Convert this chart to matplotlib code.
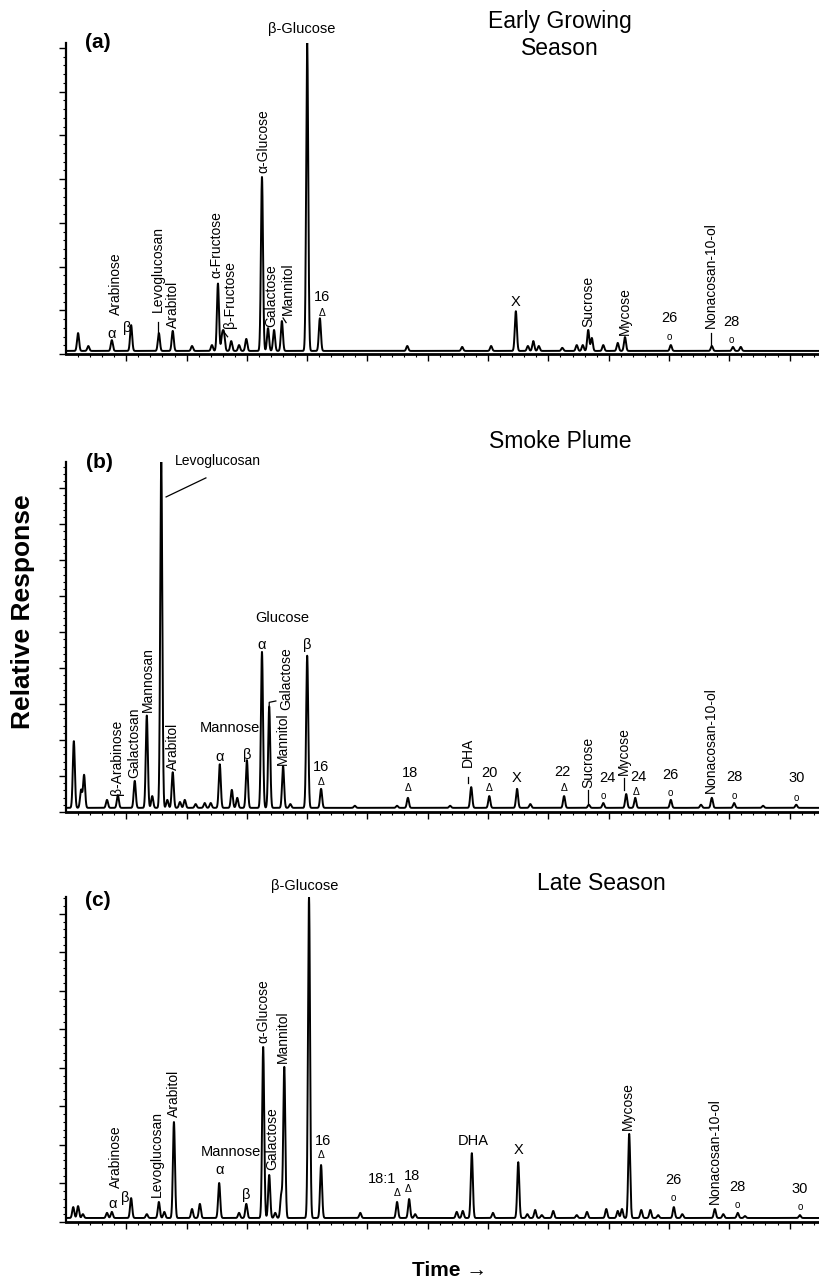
#!/usr/bin/env python3
# -*- coding: utf-8 -*-

"""
plot.py
-------
Trois chromatogrammes GC-MS empilés (a, b, c) :
    - Early Growing Season
    - Smoke Plume
    - Late Season
Temps en unités de graduation majeure, réponse en % du plus grand pic.
"""

import numpy as np
import matplotlib.pyplot as plt

plt.rcParams['font.family'] = ['Liberation Sans', 'DejaVu Sans']

# ---------------------------------------------------------------------
# (a) Early Growing Season : temps de rétention / réponse relative (%)
time_a = [0.20, 0.37, 0.76, 1.08, 1.54, 1.77, 2.09, 2.42, 2.52, 2.59, 2.62,
          2.74, 2.87, 2.99, 3.25, 3.35, 3.45, 3.58, 4.00, 4.21, 5.66, 6.57,
          7.05, 7.46, 7.66, 7.75, 7.84, 8.23, 8.47, 8.57, 8.66, 8.72, 8.91,
          9.15, 9.27, 10.03, 10.71, 11.06, 11.19]
resp_a = [5.8, 1.6, 3.5, 8.4, 5.8, 6.5, 1.6, 1.9, 21.9, 4.8, 5.2,
          3.2, 1.9, 3.9, 56.5, 7.4, 6.8, 9.7, 100.0, 10.6, 1.6, 1.3,
          1.6, 12.9, 1.6, 3.2, 1.6, 1.0, 1.9, 1.9, 6.8, 4.2, 1.9,
          2.6, 4.5, 1.9, 1.6, 1.3, 1.3]

# (b) Smoke Plume
time_b = [0.13, 0.25, 0.30, 0.68, 0.86, 1.14, 1.34, 1.43, 1.58, 1.68, 1.77,
          1.89, 1.97, 2.15, 2.30, 2.40, 2.55, 2.75, 2.84, 3.00, 3.25, 3.37,
          3.60, 3.72, 4.00, 4.23, 4.79, 5.49, 5.67, 6.37, 6.72, 7.02, 7.48,
          7.70, 8.26, 8.67, 8.91, 9.29, 9.44, 10.03, 10.53, 10.71, 11.08,
          11.56, 12.11]
resp_b = [19.3, 5.2, 9.5, 2.3, 3.7, 7.8, 26.7, 3.4, 100.0, 2.3, 10.3,
          1.7, 2.3, 1.1, 1.4, 1.4, 12.6, 5.2, 2.9, 13.8, 45.1, 29.3,
          12.1, 1.1, 44.0, 5.5, 0.6, 0.6, 2.9, 0.6, 6.0, 3.4, 5.5,
          1.1, 3.4, 0.9, 1.4, 4.0, 2.9, 2.3, 0.9, 2.9, 1.4,
          0.6, 0.9]

# (c) Late Season
time_c = [0.12, 0.20, 0.28, 0.68, 0.76, 1.08, 1.34, 1.54, 1.63, 1.79, 2.09,
          2.22, 2.54, 2.87, 2.99, 3.27, 3.37, 3.47, 3.57, 3.62, 4.03, 4.23,
          4.88, 5.49, 5.69, 5.79, 6.48, 6.58, 6.73, 7.08, 7.50, 7.65, 7.78,
          7.89, 8.08, 8.47, 8.64, 8.96, 9.15, 9.22, 9.34, 9.54, 9.69, 9.82,
          10.08, 10.22, 10.76, 10.90, 11.14, 11.26, 12.17]
resp_c = [3.4, 3.7, 1.2, 1.6, 1.9, 6.2, 1.2, 5.0, 1.9, 29.9, 2.8,
          4.4, 10.9, 1.6, 4.4, 53.3, 13.4, 1.6, 7.2, 47.0, 100.0, 16.5,
          1.6, 5.0, 5.9, 1.2, 1.9, 2.2, 20.2, 1.6, 17.4, 1.2, 2.5,
          0.9, 2.2, 0.9, 1.9, 2.8, 2.2, 2.8, 26.2, 2.5, 2.5, 0.9,
          3.4, 1.2, 2.8, 1.2, 1.6, 0.6, 0.9]

# étiquettes : (texte, x, y, vertical ?)
labels_a = [
    ("Arabinose", 0.83, 11.7, True), ("α", 0.76, 5.5, False), ("β", 1.01, 7.5, False),
    ("Levoglucosan", 1.53, 12.7, True), ("Arabitol", 1.77, 7.5, True),
    ("α-Fructose", 2.50, 23.7, True), ("β-Fructose", 2.72, 7.5, True),
    ("α-Glucose", 3.27, 57.8, True), ("Galactose", 3.40, 7.8, True),
    ("Mannitol", 3.68, 11.7, True), ("β-Glucose", 3.91, 104.5, False),
    ("16", 4.25, 17.5, False), ("X", 7.45, 15.9, False),
    ("Sucrose", 8.66, 7.8, True), ("Mycose", 9.27, 5.2, True),
    ("26", 10.00, 10.7, False), ("Nonacosan-10-ol", 10.70, 7.5, True),
    ("28", 11.04, 9.4, False),
]
marks_a = [("Δ", 4.25, 12.3), ("o", 10.00, 4.5), ("o", 11.04, 3.6)]
leaders_a = [([1.53, 1.53], [9.4, 6.2]), ([2.60, 2.68], [6.6, 4.6]),
             ([3.60, 3.65], [10.7, 9.2]), ([10.70, 10.70], [5.8, 1.9])]

labels_b = [
    ("β-Arabinose", 0.85, 3.8, True), ("Galactosan", 1.13, 8.7, True),
    ("Mannosan", 1.36, 27.7, True), ("Arabitol", 1.77, 11.0, True),
    ("Mannose", 2.72, 23.1, False), ("α", 2.55, 14.7, False), ("β", 3.00, 15.3, False),
    ("Glucose", 3.58, 54.9, False), ("α", 3.25, 47.1, False), ("β", 4.00, 47.1, False),
    ("Galactose", 3.65, 28.3, True), ("Mannitol", 3.60, 12.5, True),
    ("16", 4.23, 11.8, False), ("18", 5.70, 10.1, False),
    ("DHA", 6.67, 11.8, True), ("20", 7.02, 10.1, False), ("X", 7.48, 8.7, False),
    ("22", 8.24, 10.4, False), ("Sucrose", 8.66, 5.8, True), ("24", 8.97, 8.7, False),
    ("Mycose", 9.25, 9.5, True), ("24", 9.50, 9.0, False), ("26", 10.02, 9.5, False),
    ("Nonacosan-10-ol", 10.70, 4.3, True), ("28", 11.09, 9.0, False),
    ("30", 12.12, 8.7, False),
]
marks_b = [("Δ", 4.23, 7.5), ("Δ", 5.67, 5.8), ("Δ", 7.02, 5.8), ("Δ", 8.26, 5.8),
           ("o", 8.91, 3.5), ("Δ", 9.45, 4.6), ("o", 10.02, 4.3), ("o", 11.08, 3.5),
           ("o", 12.11, 2.9)]
leaders_b = [([1.66, 2.32], [89.9, 95.4]), ([3.37, 3.37, 3.48], [29.3, 30.5, 30.9]),
             ([6.67, 6.67], [9.0, 7.2]), ([8.66, 8.66], [5.2, 1.4]),
             ([9.25, 9.25], [8.7, 5.2])]

labels_c = [
    ("Arabinose", 0.83, 9.3, True), ("α", 0.78, 4.4, False), ("β", 0.98, 6.2, False),
    ("Levoglucosan", 1.51, 6.5, True), ("Arabitol", 1.79, 31.5, True),
    ("Mannose", 2.74, 20.6, False), ("α", 2.54, 15.0, False), ("β", 2.99, 7.2, False),
    ("α-Glucose", 3.27, 54.5, True), ("Galactose", 3.42, 15.0, True),
    ("Mannitol", 3.60, 48.3, True), ("β-Glucose", 3.96, 103.4, False),
    ("16", 4.26, 24.0, False), ("18:1", 5.24, 12.1, False), ("18", 5.74, 13.1, False),
    ("DHA", 6.75, 24.0, False), ("X", 7.50, 21.2, False), ("Mycose", 9.32, 27.4, True),
    ("26", 10.07, 11.8, False), ("Nonacosan-10-ol", 10.76, 4.4, True),
    ("28", 11.13, 9.7, False), ("30", 12.16, 9.0, False),
]
marks_c = [("Δ", 4.23, 19.6), ("Δ", 5.49, 7.8), ("Δ", 5.67, 9.0),
           ("o", 10.07, 6.2), ("o", 11.14, 4.0), ("o", 12.17, 3.4)]
leaders_c = []

W, H = 820, 1283
X_MAX = (W - 66) / 60.3
SIGMA = 0.017


def draw_panel(ax, times, resps, y_lo, y_step, labels, marks, leaders):
    t = np.linspace(0, X_MAX, 9000)
    trace = np.zeros_like(t)
    for t0, h in zip(times, resps):
        trace += h * np.exp(-0.5 * ((t - t0) / SIGMA) ** 2)
    ax.plot(t, trace, color="black", lw=1.4, solid_joinstyle="round")

    ax.set_xlim(0, X_MAX)
    ax.set_ylim(y_lo, 100)
    ax.spines[["top", "right"]].set_visible(False)
    ax.spines["left"].set_linewidth(1.6)
    ax.spines["bottom"].set_linewidth(2.0)

    ax.set_xticks(np.arange(1, X_MAX, 1.0))
    ax.set_xticks(np.arange(0.2, X_MAX, 0.2), minor=True)
    ax.set_yticks(np.arange(y_lo, 100.5, y_step))
    ax.set_yticks(np.arange(y_lo, 100.5, y_step / 5), minor=True)
    ax.tick_params(which="major", direction="out", length=5, width=1.0,
                   labelbottom=False, labelleft=False)
    ax.tick_params(which="minor", direction="out", length=2.5, width=0.8)

    for txt, x, y, vert in labels:
        if vert:
            ax.text(x, y, txt, rotation=90, ha="center", va="bottom",
                    fontsize=10, clip_on=False)
        else:
            ax.text(x, y, txt, ha="center", va="center", fontsize=10.5,
                    clip_on=False)
    for sym, x, y in marks:
        ax.text(x, y, sym, ha="center", va="center",
                fontsize=7.5 if sym == "Δ" else 7, clip_on=False)
    for xs, ys in leaders:
        ax.plot(xs, ys, color="black", lw=0.9, clip_on=False)


def main() -> None:
    fig = plt.figure(figsize=(W / 100, H / 100), dpi=100)
    left = 66 / W
    width = 1 - left

    # (spine_px, top_px) pour chaque panneau
    ax_a = fig.add_axes([left, 1 - 354 / H, width, 311 / H])
    ax_b = fig.add_axes([left, 1 - 812 / H, width, 350 / H])
    ax_c = fig.add_axes([left, 1 - 1222 / H, width, 325 / H])

    draw_panel(ax_a, time_a, resp_a, -1.0, 14.2, labels_a, marks_a, leaders_a)
    draw_panel(ax_b, time_b, resp_b, -1.2, 10.4, labels_b, marks_b, leaders_b)
    draw_panel(ax_c, time_c, resp_c, -1.25, 12.0, labels_c, marks_c, leaders_c)

    # Levoglucosan horizontal en (b)
    ax_b.text(1.81, 100.3, "Levoglucosan", ha="left", va="center", fontsize=10,
              clip_on=False)

    fig.text(98 / W, 1 - 42 / H, "(a)", fontsize=15, fontweight="bold",
             ha="center", va="center")
    fig.text(99 / W, 1 - 462 / H, "(b)", fontsize=15, fontweight="bold",
             ha="center", va="center")
    fig.text(98 / W, 1 - 900 / H, "(c)", fontsize=15, fontweight="bold",
             ha="center", va="center")

    fig.text(560 / W, 1 - 35 / H, "Early Growing\nSeason", fontsize=16.5,
             ha="center", va="center", linespacing=1.2)
    fig.text(560 / W, 1 - 442 / H, "Smoke Plume", fontsize=16.5,
             ha="center", va="center")
    fig.text(601 / W, 1 - 883 / H, "Late Season", fontsize=16.5,
             ha="center", va="center")

    fig.text(23 / W, 1 - 612 / H, "Relative Response", fontsize=19,
             fontweight="bold", rotation=90, ha="center", va="center")
    fig.text(450 / W, 1 - 1270 / H, "Time →", fontsize=15, fontweight="bold",
             ha="center", va="center")

    fig.savefig("out.png", dpi=100)


if __name__ == "__main__":
    main()
